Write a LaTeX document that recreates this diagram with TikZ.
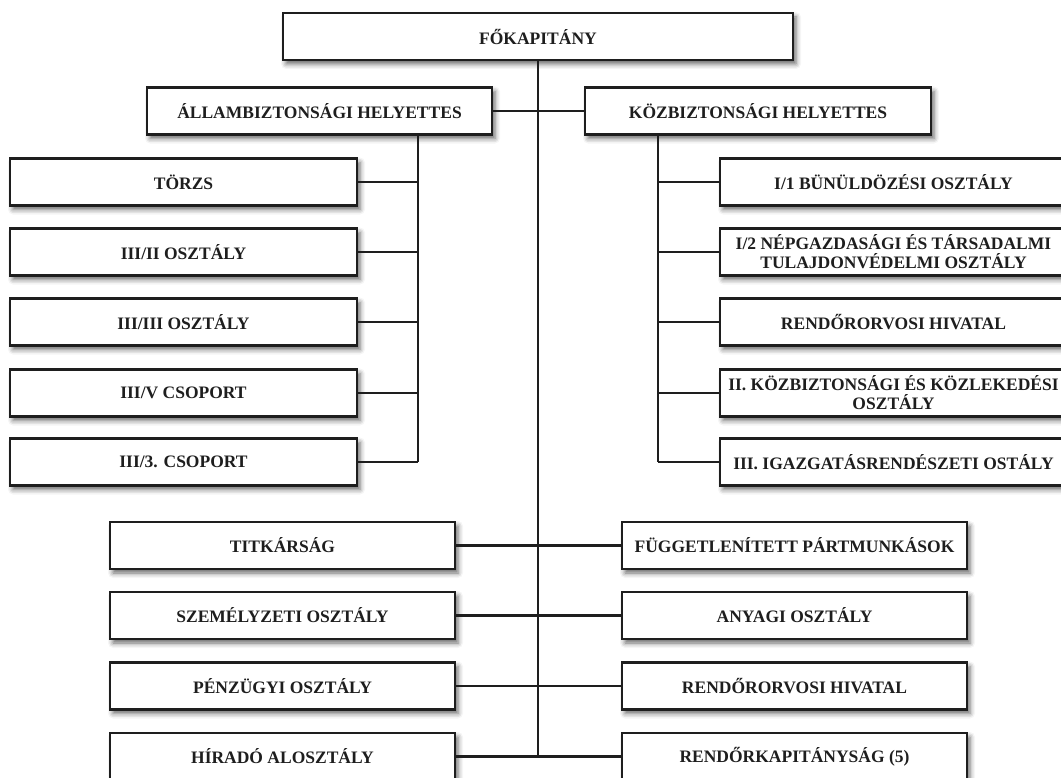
\documentclass[tikz,border=0pt]{standalone}
\usepackage{fontspec}
\setmainfont{Liberation Serif}
\usetikzlibrary{shadows.blur}
\definecolor{ink}{HTML}{1E1E1E}
\tikzset{
  unit/.style={draw=ink, line width=2.6pt, fill=white, rectangle, inner sep=0pt,
    minimum height=47pt, align=center, text=ink,
    font=\bfseries\fontsize{17.5}{19}\selectfont,
    blur shadow={shadow xshift=3pt, shadow yshift=-4pt, shadow blur radius=5pt, shadow opacity=60}},
  wide/.style={unit, minimum width=347pt},
  link/.style={draw=ink, line width=2.2pt}
}
\begin{document}
\begin{tikzpicture}[x=1pt, y=-1pt]
\useasboundingbox (0,0) rectangle (1061,778);

% head and deputies
\node[unit, minimum width=510pt] (fokap) at (538,36.5) {FŐKAPITÁNY};
\node[unit, minimum width=345pt] (allam) at (319.5,111) {ÁLLAMBIZTONSÁGI HELYETTES};
\node[unit, minimum width=346pt] (kozb) at (758,111) {KÖZBIZTONSÁGI HELYETTES};

% state security units
\node[wide] (torzs) at (183.5,182) {TÖRZS};
\node[wide] (o32) at (183.5,252) {III/II OSZTÁLY};
\node[wide] (o33) at (183.5,322) {III/III OSZTÁLY};
\node[wide] (c35) at (183.5,393) {III/V CSOPORT};
\node[wide] (c3h) at (183.5,462) {III/3. CSOPORT};

% public security units
\node[wide] (i1) at (893.5,182) {I/1 BÜNÜLDÖZÉSI OSZTÁLY};
\node[wide] (i2) at (893.5,252) {I/2 NÉPGAZDASÁGI ÉS TÁRSADALMI\\TULAJDONVÉDELMI OSZTÁLY};
\node[wide] (rorv1) at (893.5,322) {RENDŐRORVOSI HIVATAL};
\node[wide] (ii) at (893.5,393) {II. KÖZBIZTONSÁGI ÉS KÖZLEKEDÉSI\\OSZTÁLY};
\node[wide] (iii) at (893.5,462) {III. IGAZGATÁSRENDÉSZETI OSTÁLY};

% units directly under the head
\node[unit, minimum width=345pt] (titk) at (282.5,545.5) {TITKÁRSÁG};
\node[unit, minimum width=345pt] (szem) at (282.5,615.5) {SZEMÉLYZETI OSZTÁLY};
\node[unit, minimum width=345pt] (penz) at (282.5,686) {PÉNZÜGYI OSZTÁLY};
\node[unit, minimum width=345pt] (hir) at (282.5,756.5) {HÍRADÓ ALOSZTÁLY};
\node[unit, minimum width=345pt] (fugg) at (794.5,545.5) {FÜGGETLENÍTETT PÁRTMUNKÁSOK};
\node[unit, minimum width=345pt] (anyag) at (794.5,615.5) {ANYAGI OSZTÁLY};
\node[unit, minimum width=345pt] (rorv2) at (794.5,686) {RENDŐRORVOSI HIVATAL};
\node[unit, minimum width=345pt] (rkap) at (794.5,756.5) {RENDŐRKAPITÁNYSÁG (5)};

% bus lines
\coordinate (lbus) at (418,134.5);
\coordinate (rbus) at (658,134.5);

% main spine
\draw[link] (fokap.south) -- (fokap.south |- hir.east);
\draw[link] (allam.east) -- (kozb.west);

% left branch
\draw[link] (lbus) -- (lbus |- c3h.east);
\foreach \n in {torzs,o32,o33,c35,c3h}
  \draw[link] (\n.east) -- (\n.east -| lbus);

% right branch
\draw[link] (rbus) -- (rbus |- iii.west);
\foreach \n in {i1,i2,rorv1,ii,iii}
  \draw[link] (\n.west) -- (\n.west -| rbus);

% lower rows
\draw[link] (titk.east) -- (fugg.west);
\draw[link] (szem.east) -- (anyag.west);
\draw[link] (penz.east) -- (rorv2.west);
\draw[link] (hir.east) -- (rkap.west);
\end{tikzpicture}
\end{document}
